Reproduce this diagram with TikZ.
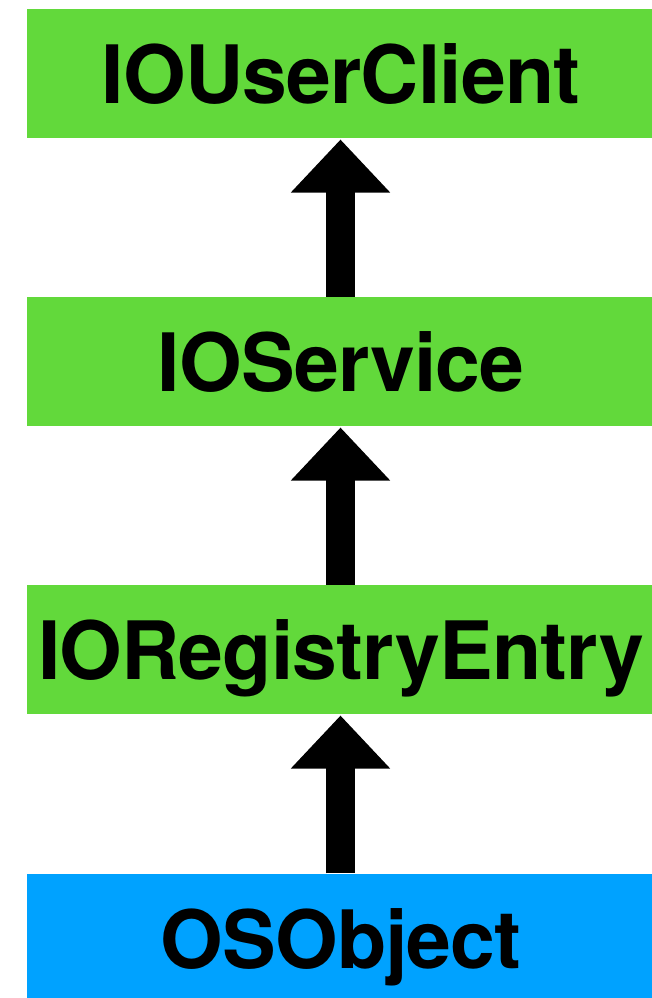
\documentclass[tikz,border=0pt]{standalone}
\usepackage{fontspec}
\setmainfont{TeX Gyre Heros}[LetterSpace=-1.0]
\usetikzlibrary{arrows.meta}
\definecolor{classgreen}{RGB}{98,217,59}
\definecolor{rootblue}{RGB}{0,162,255}
\tikzset{
  classbox/.style={rectangle, fill=#1, draw=none, inner sep=0pt,
    minimum width=628pt, minimum height=128.5pt,
    text height=61pt, text depth=0pt,
    font=\fontsize{80.5}{80}\selectfont\bfseries},
  inherits/.style={line width=29pt, draw=black,
    -{Triangle[width=96pt,length=53pt]}, shorten >=1.8pt}
}
\begin{document}
\begin{tikzpicture}[x=1pt,y=1pt]
  \useasboundingbox (0,0) rectangle (651,-998);
  % class hierarchy, top to bottom (boxes run past the right edge)
  \node[classbox=classgreen] (uc)  at (341,-73.25)  {IOUserClient};
  \node[classbox=classgreen] (svc) at (341,-361.25) {IOService};
  \node[classbox=classgreen] (reg) at (341,-649.25) {IORegistryEntry};
  \node[classbox=rootblue]   (obj) at (341,-937.75) {OSObject};
  % subclass -> superclass arrows
  \draw[inherits] ([xshift=-0.5pt]svc.north) -- ([xshift=-0.5pt]uc.south);
  \draw[inherits] ([xshift=-0.5pt]reg.north) -- ([xshift=-0.5pt]svc.south);
  \draw[inherits] ([xshift=-0.5pt]obj.north) -- ([xshift=-0.5pt]reg.south);
\end{tikzpicture}
\end{document}
